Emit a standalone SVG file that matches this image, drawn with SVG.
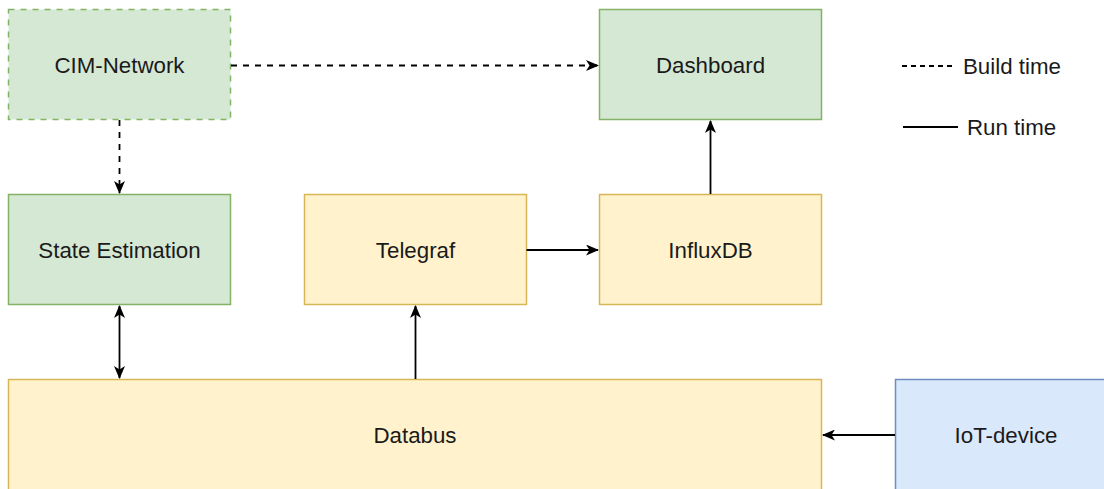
<svg xmlns="http://www.w3.org/2000/svg" width="1104" height="489" viewBox="0 0 1104 489">
<style>
.g{fill:#d5e8d4;stroke:#82b366;stroke-width:1.5}
.y{fill:#fff2cc;stroke:#d6b656;stroke-width:1.5}
.b{fill:#dae8fc;stroke:#6c8ebf;stroke-width:1.5}
.dash{stroke-dasharray:6 6}
text{font-family:"Liberation Sans",Arial,sans-serif;font-size:22.3px;fill:#1a1a1a;text-anchor:middle;dominant-baseline:central}
.c{stroke:#000;stroke-width:1.8;fill:none}
.l{text-anchor:start}
</style>
<defs>
<marker id="a" viewBox="0 0 13 11" refX="12" refY="5.5" markerWidth="13" markerHeight="11" markerUnits="userSpaceOnUse" orient="auto-start-reverse">
<path d="M0,0 L13,5.5 L0,11 L3.5,5.5 z" fill="#000"/>
</marker>
</defs>
<g id="cim"><rect class="g dash" x="8.5" y="9.5" width="222" height="110"/><text x="119.5" y="65">CIM-Network</text></g>
<g id="dashboard"><rect class="g" x="599.5" y="9.5" width="222" height="110"/><text x="710.5" y="65">Dashboard</text></g>
<g id="state"><rect class="g" x="8.5" y="194.5" width="222" height="110"/><text x="119.5" y="250">State Estimation</text></g>
<g id="telegraf"><rect class="y" x="304.5" y="194.5" width="222" height="110"/><text x="415.5" y="250">Telegraf</text></g>
<g id="influx"><rect class="y" x="599.5" y="194.5" width="222" height="110"/><text x="710.5" y="250">InfluxDB</text></g>
<g id="databus"><rect class="y" x="8.5" y="379.5" width="813" height="112"/><text x="415" y="435">Databus</text></g>
<g id="iot"><rect class="b" x="895.5" y="379.5" width="222" height="112"/><text x="1006" y="435">IoT-device</text></g>
<g id="connectors">
<path class="c dash" d="M231,65.5 H598" marker-end="url(#a)"/>
<path class="c dash" d="M119.5,120 V193" marker-end="url(#a)"/>
<path class="c" d="M526.5,250 H598" marker-end="url(#a)"/>
<path class="c" d="M710.5,194 V121" marker-end="url(#a)"/>
<path class="c" d="M415.5,379 V306" marker-end="url(#a)"/>
<path class="c" d="M119.5,306 V378" marker-start="url(#a)" marker-end="url(#a)"/>
<path class="c" d="M895,435 H823" marker-end="url(#a)"/>
</g>
<g id="legend">
<path class="c" stroke-width="1.3" stroke-dasharray="5 4" d="M902,66 H953"/>
<text class="l" x="963" y="66">Build time</text>
<path class="c" stroke-width="1.5" d="M903,127 H958"/>
<text class="l" x="967" y="127">Run time</text>
</g>
</svg>
